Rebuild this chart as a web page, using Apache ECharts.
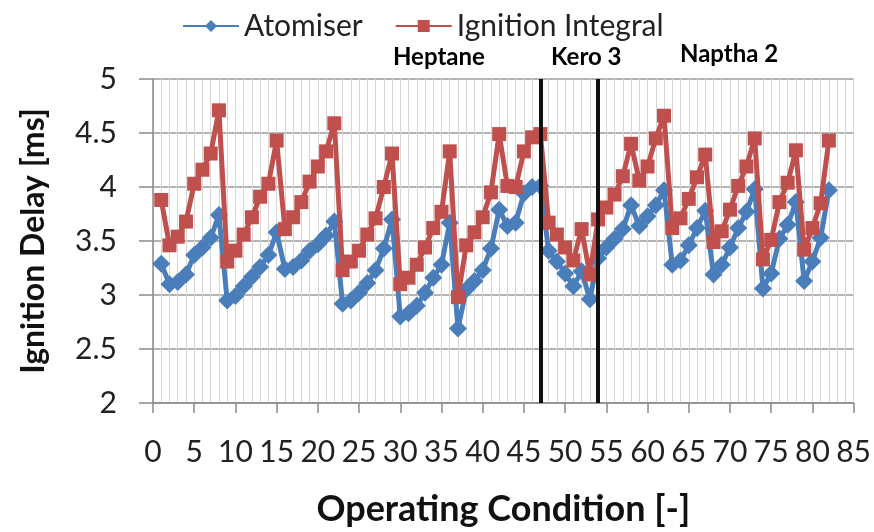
<!DOCTYPE html>
<html>
<head>
<meta charset="utf-8">
<script src="https://cdn.jsdelivr.net/npm/echarts@6/dist/echarts.min.js"></script>
<style>
html,body{margin:0;padding:0;background:#fff;}
#chart{width:874px;height:532px;}
</style>
</head>
<body>
<div id="chart"></div>
<script>
// Operating conditions 1..82
const conditions = [];
for (let i = 1; i <= 82; i++) conditions.push(i);

const atomiser = [
  3.29, 3.10, 3.12, 3.19, 3.37, 3.44, 3.53, 3.74, 2.95, 2.99,
  3.08, 3.17, 3.26, 3.37, 3.58, 3.24, 3.26, 3.32, 3.41, 3.47,
  3.55, 3.68, 2.92, 2.95, 3.02, 3.11, 3.23, 3.43, 3.70, 2.80,
  2.83, 2.90, 3.02, 3.16, 3.28, 3.67, 2.69, 3.05, 3.13, 3.23,
  3.43, 3.79, 3.64, 3.67, 3.94, 4.00, 4.01, 3.41, 3.31, 3.20,
  3.08, 3.22, 2.96, 3.34, 3.44, 3.52, 3.61, 3.83, 3.64, 3.73,
  3.83, 3.97, 3.28, 3.32, 3.46, 3.62, 3.78, 3.19, 3.28, 3.44,
  3.62, 3.77, 3.98, 3.06, 3.20, 3.52, 3.65, 3.86, 3.13, 3.31,
  3.53, 3.97
];

const ignitionIntegral = [
  3.88, 3.46, 3.54, 3.68, 4.03, 4.16, 4.31, 4.71, 3.31, 3.41,
  3.56, 3.72, 3.91, 4.03, 4.43, 3.61, 3.72, 3.86, 4.05, 4.19,
  4.33, 4.59, 3.23, 3.31, 3.41, 3.56, 3.71, 4.00, 4.31, 3.10,
  3.16, 3.28, 3.44, 3.62, 3.77, 4.33, 2.98, 3.46, 3.58, 3.72,
  3.95, 4.49, 4.01, 4.00, 4.33, 4.46, 4.49, 3.67, 3.56, 3.44,
  3.32, 3.61, 3.19, 3.70, 3.81, 3.93, 4.10, 4.40, 4.06, 4.19,
  4.45, 4.66, 3.62, 3.71, 3.89, 4.09, 4.30, 3.49, 3.59, 3.79,
  4.01, 4.19, 4.45, 3.33, 3.51, 3.86, 4.04, 4.34, 3.42, 3.62,
  3.85, 4.43
];

const fuelBoundaries = [47, 54];
const fuelLabels = ['Heptane', 'Kero 3', 'Naptha 2'];

const FONT = 'Lato, "Open Sans", "Noto Sans", sans-serif';

const chart = echarts.init(document.getElementById('chart'), null, {renderer: 'canvas'});

const option = {
  backgroundColor: '#ffffff',
  animation: false,
  textStyle: {fontFamily: FONT},
  legend: {
    left: 177,
    top: 6,
    itemWidth: 56,
    itemHeight: 15,
    itemGap: 32,
    textStyle: {fontSize: 30, color: '#222', fontFamily: FONT},
    data: ['Atomiser', 'Ignition Integral']
  },
  grid: {left: 153, right: 20, top: 79, bottom: 120, containLabel: false},
  xAxis: {
    type: 'value',
    min: 0, max: 85, interval: 5,
    name: 'Operating Condition [-]',
    nameLocation: 'middle',
    nameGap: 88,
    nameTextStyle: {fontSize: 36, fontWeight: 'bold', color: '#111', fontFamily: FONT},
    axisLine: {show: true, lineStyle: {color: '#8a8a8a', width: 1.5}},
    axisTick: {show: true, length: 10, lineStyle: {color: '#8a8a8a', width: 1.5}},
    axisLabel: {fontSize: 30, color: '#222', margin: 34, fontFamily: FONT},
    splitLine: {show: true, lineStyle: {color: '#d6d6d6', width: 1}},
    minorTick: {show: false, splitNumber: 5},
    minorSplitLine: {show: true, lineStyle: {color: '#d6d6d6', width: 1}}
  },
  yAxis: {
    type: 'value',
    min: 2, max: 5, interval: 0.5,
    name: 'Ignition Delay [ms]',
    nameLocation: 'middle',
    nameGap: 103,
    nameTextStyle: {fontSize: 32, fontWeight: 'bold', color: '#111', fontFamily: FONT},
    axisLine: {show: true, lineStyle: {color: '#8a8a8a', width: 1.5}},
    axisTick: {show: true, length: 14, lineStyle: {color: '#8a8a8a', width: 1.5}},
    axisLabel: {fontSize: 30, color: '#222', margin: 36, fontFamily: FONT},
    splitLine: {show: true, lineStyle: {color: '#9a9a9a', width: 1.5}}
  },
  series: [
    {
      name: 'Atomiser',
      type: 'line',
      data: conditions.map((c, i) => [c, atomiser[i]]),
      symbol: 'diamond',
      symbolSize: 18,
      lineStyle: {color: '#4a7ebb', width: 5},
      itemStyle: {color: '#4a7ebb'},
      z: 3
    },
    {
      name: 'Ignition Integral',
      type: 'line',
      data: conditions.map((c, i) => [c, ignitionIntegral[i]]),
      symbol: 'rect',
      symbolSize: 14,
      lineStyle: {color: '#c0504d', width: 5},
      itemStyle: {color: '#c0504d'},
      z: 4,
      markLine: {
        silent: true,
        symbol: 'none',
        label: {show: false},
        lineStyle: {color: '#111', width: 4, type: 'solid'},
        data: fuelBoundaries.map(b => ({xAxis: b}))
      }
    }
  ],
  graphic: [
    {type: 'text', left: 393, top: 45, style: {text: fuelLabels[0], font: 'bold 24px ' + FONT, fill: '#000'}},
    {type: 'text', left: 551, top: 45, style: {text: fuelLabels[1], font: 'bold 24px ' + FONT, fill: '#000'}},
    {type: 'text', left: 680, top: 42, style: {text: fuelLabels[2], font: 'bold 24px ' + FONT, fill: '#000'}}
  ]
};

chart.setOption(option);
</script>
</body>
</html>
